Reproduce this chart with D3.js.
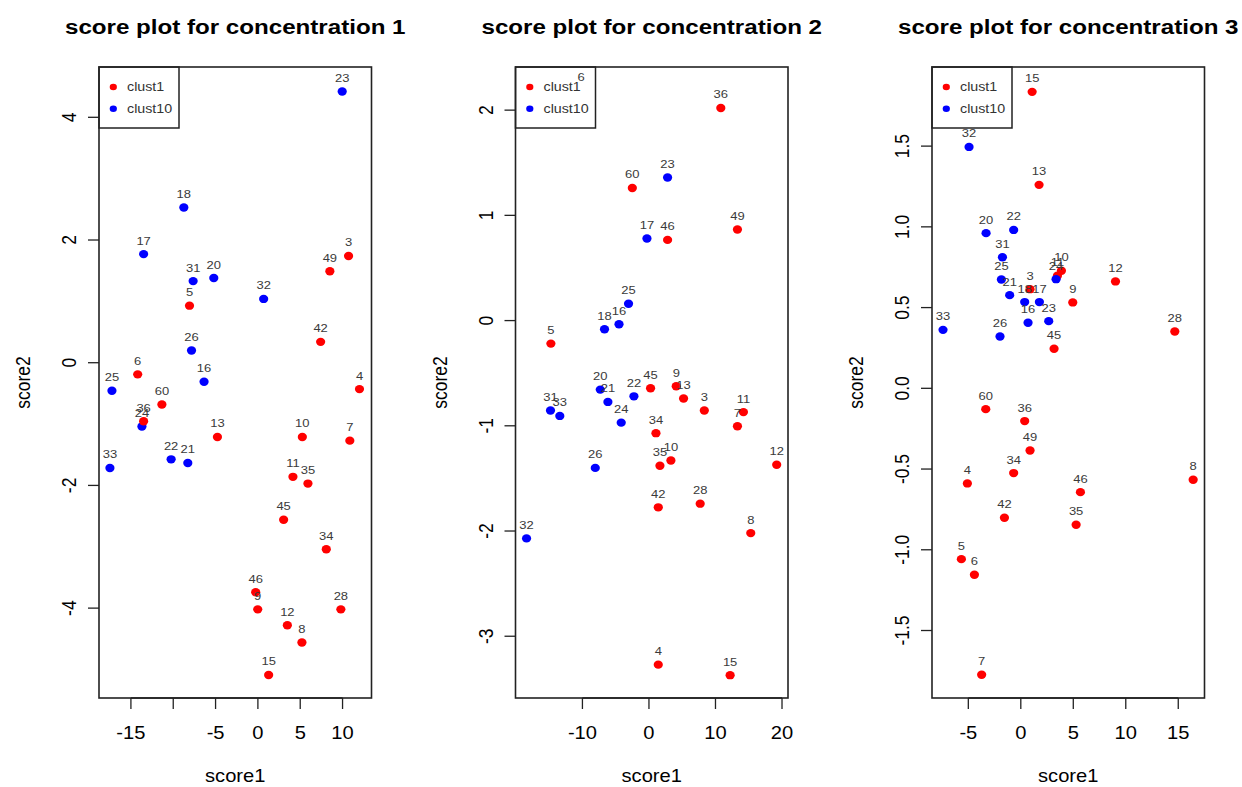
<!DOCTYPE html>
<html>
<head>
<meta charset="utf-8">
<script src="https://cdn.jsdelivr.net/npm/d3@7"></script>
<style>
  html, body { margin: 0; padding: 0; background: #fff; }
  svg { display: block; }
  text { font-family: "Liberation Sans", Arial, Helvetica, sans-serif; }
</style>
</head>
<body>
<svg id="chart" width="1242" height="787"></svg>
<script>
// Sample ids (shared by all three concentrations)
const ids = [3, 4, 5, 6, 7, 8, 9, 10, 11, 12, 13, 15, 16, 17, 18, 20, 21, 22, 23, 24,
             25, 26, 28, 31, 32, 33, 34, 35, 36, 42, 45, 46, 49, 60];

// Cluster assignment for each id
const cluster = ["clust1", "clust1", "clust1", "clust1", "clust1", "clust1", "clust1", "clust1",
                 "clust1", "clust1", "clust1", "clust1", "clust10", "clust10", "clust10", "clust10",
                 "clust10", "clust10", "clust10", "clust10", "clust10", "clust10", "clust1", "clust10",
                 "clust10", "clust10", "clust1", "clust1", "clust1", "clust1", "clust1", "clust1",
                 "clust1", "clust1"];

// Concentration 1 scores
const score1_c1 = [10.71, 12.0, -8.08, -14.2, 10.86, 5.2, -0.02, 5.25, 4.14, 3.48, -4.78, 1.27,
                   -6.36, -13.5, -8.75, -5.21, -8.28, -10.25, 9.96, -13.7, -17.24, -7.84, 9.8,
                   -7.65, 0.68, -17.48, 8.08, 5.91, -13.5, 7.41, 3.04, -0.26, 8.5, -11.34];
const score2_c1 = [1.74, -0.43, 0.93, -0.19, -1.27, -4.56, -4.02, -1.21, -1.86, -4.28, -1.21, -5.09,
                   -0.31, 1.77, 2.53, 1.38, -1.635, -1.575, 4.42, -1.04, -0.456, 0.20, -4.02,
                   1.33, 1.04, -1.716, -3.04, -1.97, -0.955, 0.34, -2.56, -3.74, 1.49, -0.68];

// Concentration 2 scores
const score1_c2 = [8.32, 1.4, -14.74, -10.2, 13.3, 15.3, 4.1, 3.3, 14.2, 19.2, 5.2, 12.2,
                   -4.5, -0.3, -6.68, -7.32, -6.17, -2.26, 2.8, -4.17, -3.07, -8.07, 7.7,
                   -14.8, -18.4, -13.4, 1.05, 1.65, 10.8, 1.4, 0.24, 2.8, 13.3, -2.5];
const score2_c2 = [-0.855, -3.27, -0.219, 2.19, -1.005, -2.02, -0.624, -1.33, -0.87, -1.37, -0.74, -3.37,
                   -0.035, 0.78, -0.083, -0.656, -0.773, -0.72, 1.36, -0.97, 0.16, -1.4, -1.74,
                   -0.855, -2.07, -0.906, -1.07, -1.38, 2.02, -1.775, -0.643, 0.767, 0.865, 1.26];

// Concentration 3 scores
const score1_c3 = [0.88, -5.09, -5.66, -4.42, -3.73, 16.42, 4.95, 3.87, 3.49, 9.02, 1.74, 1.08,
                   0.69, 1.77, 0.37, -3.31, -1.06, -0.68, 2.66, 3.36, -1.85, -1.98, 14.67,
                   -1.75, -4.93, -7.41, -0.68, 5.27, 0.37, -1.56, 3.17, 5.68, 0.88, -3.34];
const score2_c3 = [0.614, -0.589, -1.058, -1.155, -1.774, -0.566, 0.532, 0.728, 0.697, 0.662, 1.26, 1.836,
                   0.406, 0.534, 0.534, 0.961, 0.577, 0.981, 0.416, 0.676, 0.674, 0.321, 0.352,
                   0.812, 1.495, 0.362, -0.525, -0.845, -0.203, -0.802, 0.245, -0.643, -0.385, -0.129];

// Axis limits and ticks per panel
const xLim1 = [-18.77, 13.42], yLim1 = [-5.465, 4.82];
const xLim2 = [-20.06, 20.9],  yLim2 = [-3.587, 2.41];
const xLim3 = [-8.46, 17.5],   yLim3 = [-1.918, 1.99];

const xTicks1 = [-15, -10, -5, 0, 5, 10], xTickLabels1 = ["-15", "", "-5", "0", "5", "10"];
const yTicks1 = [-4, -2, 0, 2, 4],        yTickLabels1 = ["-4", "-2", "0", "2", "4"];
const xTicks2 = [-10, 0, 10, 20],         xTickLabels2 = ["-10", "0", "10", "20"];
const yTicks2 = [-3, -2, -1, 0, 1, 2],    yTickLabels2 = ["-3", "-2", "-1", "0", "1", "2"];
const xTicks3 = [-5, 0, 5, 10, 15],       xTickLabels3 = ["-5", "0", "5", "10", "15"];
const yTicks3 = [-1.5, -1, -0.5, 0, 0.5, 1, 1.5];
const yTickLabels3 = ["-1.5", "-1.0", "-0.5", "0.0", "0.5", "1.0", "1.5"];

const titles = ["score plot for concentration 1", "score plot for concentration 2", "score plot for concentration 3"];
const legendLabels = ["clust1", "clust10"];
const colors = { clust1: "#ff0000", clust10: "#0000ff" };

const panels = [
  { title: titles[0], sx: score1_c1, sy: score2_c1, xLim: xLim1, yLim: yLim1,
    xTicks: xTicks1, xLabels: xTickLabels1, yTicks: yTicks1, yLabels: yTickLabels1 },
  { title: titles[1], sx: score1_c2, sy: score2_c2, xLim: xLim2, yLim: yLim2,
    xTicks: xTicks2, xLabels: xTickLabels2, yTicks: yTicks2, yLabels: yTickLabels2 },
  { title: titles[2], sx: score1_c3, sy: score2_c3, xLim: xLim3, yLim: yLim3,
    xTicks: xTicks3, xLabels: xTickLabels3, yTicks: yTicks3, yLabels: yTickLabels3 }
];

// Layout
const lefts = [99, 515.5, 932];
const plotW = 272.5, plotTop = 67, plotBottom = 698;
const stretch = 1.15;   // glyphs are drawn slightly wide

const svg = d3.select("#chart");

// Text helper: places a (horizontally stretched) label at x, y
function label(g, x, y, str, opts = {}) {
  const rot = opts.rotate ? ` rotate(${opts.rotate})` : "";
  return g.append("text")
    .attr("transform", `translate(${x},${y}) scale(${stretch},1)${rot}`)
    .attr("text-anchor", opts.anchor || "middle")
    .attr("dy", opts.dy || "0.35em")
    .attr("font-size", opts.size || 17.5)
    .attr("font-weight", opts.weight || "normal")
    .attr("fill", opts.fill || "#000")
    .text(str);
}

panels.forEach((p, i) => {
  const x0 = lefts[i];
  const g = svg.append("g");
  const x = d3.scaleLinear().domain(p.xLim).range([x0, x0 + plotW]);
  const y = d3.scaleLinear().domain(p.yLim).range([plotBottom, plotTop]);

  const pts = ids.map((id, k) => ({ id, cl: cluster[k], sx: p.sx[k], sy: p.sy[k] }));

  // points
  g.append("g").selectAll("ellipse").data(pts).join("ellipse")
    .attr("cx", d => x(d.sx)).attr("cy", d => y(d.sy))
    .attr("rx", 4.6).attr("ry", 4.2)
    .attr("fill", d => colors[d.cl]);

  // legend (top-left corner)
  const lg = g.append("g");
  lg.append("rect").attr("x", x0).attr("y", plotTop).attr("width", 80).attr("height", 61)
    .attr("fill", "#fff").attr("stroke", "#222").attr("stroke-width", 1.5);
  legendLabels.forEach((name, k) => {
    const ly = plotTop + 20 + k * 21.7;
    lg.append("ellipse").attr("cx", x0 + 14.3).attr("cy", ly).attr("rx", 3.6).attr("ry", 3.3)
      .attr("fill", colors[name]);
    label(lg, x0 + 28, ly, name, { anchor: "start", size: 12.4, fill: "#333" });
  });

  // point id labels, above each point
  pts.forEach(d => {
    label(g, x(d.sx), y(d.sy) - 13.5, String(d.id), { size: 11.3, fill: "#3a3a3a" });
  });

  // plot box
  g.append("rect").attr("x", x0).attr("y", plotTop).attr("width", plotW).attr("height", plotBottom - plotTop)
    .attr("fill", "none").attr("stroke", "#222").attr("stroke-width", 1.6);

  // x axis
  const xa = g.append("g");
  xa.append("line").attr("x1", x(p.xTicks[0])).attr("x2", x(p.xTicks[p.xTicks.length - 1]))
    .attr("y1", plotBottom).attr("y2", plotBottom).attr("stroke", "#222").attr("stroke-width", 1.6);
  p.xTicks.forEach((t, k) => {
    xa.append("line").attr("x1", x(t)).attr("x2", x(t)).attr("y1", plotBottom).attr("y2", plotBottom + 11)
      .attr("stroke", "#222").attr("stroke-width", 1.3);
    if (p.xLabels[k]) label(xa, x(t), 733, p.xLabels[k]);
  });

  // y axis
  const ya = g.append("g");
  p.yTicks.forEach((t, k) => {
    ya.append("line").attr("x1", x0 - 11).attr("x2", x0).attr("y1", y(t)).attr("y2", y(t))
      .attr("stroke", "#222").attr("stroke-width", 1.3);
    label(ya, x0 - 30, y(t), p.yLabels[k], { rotate: -90 });
  });

  // axis titles and panel title
  label(g, x0 + plotW / 2, 776, "score1");
  label(g, x0 - 76, (plotTop + plotBottom) / 2, "score2", { rotate: -90 });
  label(g, x0 + plotW / 2, 27, p.title, { size: 21, weight: "bold" });
});
</script>
</body>
</html>
